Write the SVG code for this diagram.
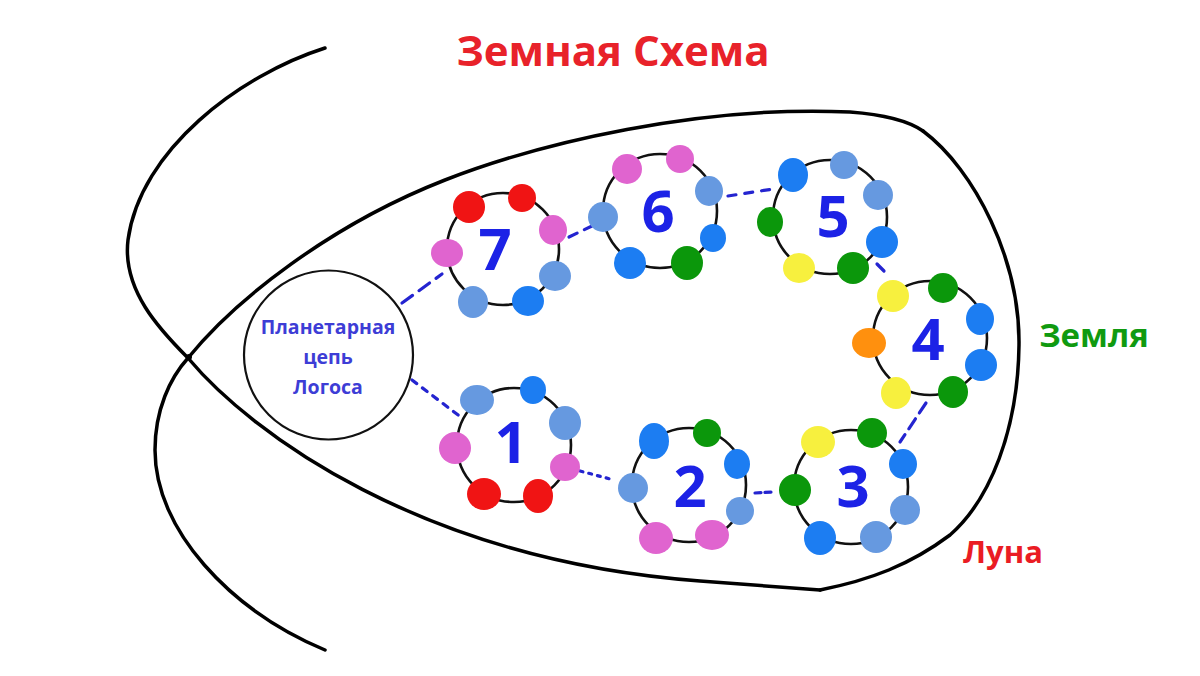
<svg xmlns="http://www.w3.org/2000/svg" width="1200" height="676" viewBox="0 0 1200 676">
<style>
.ln{fill:none;stroke:#000;stroke-width:3.5;stroke-linecap:round;stroke-linejoin:round}
.ring{fill:none;stroke:#111;stroke-width:2.6}
.num{font-family:"Open Sans","DejaVu Sans",sans-serif;font-weight:700;font-size:58px;fill:#1c22e6;text-anchor:middle}
.dash{fill:none;stroke:#2424d0;stroke-width:3.2;stroke-linecap:round}
.r{fill:#f01414}.p{fill:#e064cf}.s{fill:#6699e0}.b{fill:#1c7df2}.g{fill:#0b970b}.y{fill:#f7f03e}.o{fill:#ff900e}
.lbl{font-family:"Open Sans","DejaVu Sans",sans-serif;font-weight:700}
</style>
<rect width="1200" height="676" fill="#fff"/>
<g id="outline">
<path class="ln" d="M325,48 C240,75 140,150 128,240 C122,290 160,330 188,358 C250,432 420,560 700,581 L820,590"/>
<path class="ln" d="M325,650 C230,610 155,530 155,450 C155,410 170,378 188,358 C235,300 330,225 445,180 C540,143 700,105 850,112 C890,115 910,122 923,131"/>
<path class="ln" d="M923,131 C975,170 1020,260 1019,345 C1018,430 990,500 950,535 C910,565 870,580 820,590"/>
<circle cx="189" cy="357" r="3"/>
</g>
<g id="connectors">
<path class="dash" d="M402,303 L442,274" stroke-dasharray="13 8"/>
<path class="dash" d="M412,380 L462,418" stroke-dasharray="6 7"/>
<path class="dash" d="M569,237 L592,226" stroke-dasharray="9 8"/>
<path class="dash" d="M728,196 L773,189" stroke-dasharray="8 9"/>
<path class="dash" d="M877,264 L884,271"/>
<path class="dash" d="M926,403 L900,442" stroke-dasharray="12 7"/>
<path class="dash" d="M755,493 L772,492" stroke-dasharray="6 4"/>
<path class="dash" d="M580,471 L614,480" stroke-dasharray="3 6"/>
</g>
<g id="title"><text class="lbl" x="613" y="66" font-size="42" fill="#e8222a" text-anchor="middle">Земная Схема</text></g>
<g id="zemlya"><text class="lbl" x="1094" y="347" font-size="33" fill="#109a10" text-anchor="middle">Земля</text></g>
<g id="luna"><text class="lbl" x="1003" y="563" font-size="31" fill="#ea1c24" text-anchor="middle">Луна</text></g>
<g id="logos">
<circle cx="328.5" cy="355" r="84.5" fill="#fff" stroke="#111" stroke-width="2.2"/>
<g class="lbl" font-size="19.5" fill="#3d3dd6" text-anchor="middle">
<text x="328" y="334">Планетарная</text>
<text x="328" y="364">цепь</text>
<text x="328" y="394">Логоса</text>
</g>
</g>
<g id="globe7">
<circle class="ring" cx="503" cy="249" r="56"/>
<ellipse class="r" cx="469" cy="207" rx="16" ry="16"/>
<ellipse class="r" cx="522" cy="198" rx="14" ry="14"/>
<ellipse class="p" cx="553" cy="230" rx="14" ry="15"/>
<ellipse class="p" cx="447" cy="253" rx="16" ry="14"/>
<ellipse class="s" cx="555" cy="276" rx="16" ry="15"/>
<ellipse class="b" cx="528" cy="301" rx="16" ry="15"/>
<ellipse class="s" cx="473" cy="302" rx="15" ry="16"/>
<text class="num" x="495" y="270">7</text>
</g>
<g id="globe6">
<circle class="ring" cx="660" cy="211" r="57"/>
<ellipse class="p" cx="627" cy="169" rx="15" ry="15"/>
<ellipse class="p" cx="680" cy="159" rx="14" ry="14"/>
<ellipse class="s" cx="709" cy="191" rx="14" ry="15"/>
<ellipse class="s" cx="603" cy="217" rx="15" ry="15"/>
<ellipse class="b" cx="713" cy="238" rx="13" ry="14"/>
<ellipse class="g" cx="687" cy="263" rx="16" ry="17"/>
<ellipse class="b" cx="630" cy="263" rx="16" ry="16"/>
<text class="num" x="658" y="232">6</text>
</g>
<g id="globe5">
<circle class="ring" cx="830" cy="217" r="57"/>
<ellipse class="b" cx="793" cy="175" rx="15" ry="17"/>
<ellipse class="s" cx="844" cy="165" rx="14" ry="14"/>
<ellipse class="s" cx="878" cy="195" rx="15" ry="15"/>
<ellipse class="b" cx="882" cy="242" rx="16" ry="16"/>
<ellipse class="g" cx="770" cy="222" rx="13" ry="15"/>
<ellipse class="y" cx="799" cy="268" rx="16" ry="15"/>
<ellipse class="g" cx="853" cy="268" rx="16" ry="16"/>
<text class="num" x="833" y="237">5</text>
</g>
<g id="globe4">
<circle class="ring" cx="930" cy="338" r="57"/>
<ellipse class="y" cx="893" cy="296" rx="16" ry="16"/>
<ellipse class="g" cx="943" cy="288" rx="15" ry="15"/>
<ellipse class="b" cx="980" cy="319" rx="14" ry="16"/>
<ellipse class="b" cx="981" cy="365" rx="16" ry="16"/>
<ellipse class="o" cx="869" cy="343" rx="17" ry="15"/>
<ellipse class="y" cx="896" cy="393" rx="15" ry="16"/>
<ellipse class="g" cx="953" cy="392" rx="15" ry="16"/>
<text class="num" x="928" y="360">4</text>
</g>
<g id="globe1">
<circle class="ring" cx="514" cy="445" r="57"/>
<ellipse class="s" cx="477" cy="400" rx="17" ry="15"/>
<ellipse class="b" cx="533" cy="390" rx="13" ry="14"/>
<ellipse class="s" cx="565" cy="423" rx="16" ry="17"/>
<ellipse class="p" cx="455" cy="448" rx="16" ry="16"/>
<ellipse class="p" cx="565" cy="467" rx="15" ry="14"/>
<ellipse class="r" cx="484" cy="494" rx="17" ry="16"/>
<ellipse class="r" cx="538" cy="496" rx="15" ry="17"/>
<text class="num" x="511" y="463">1</text>
</g>
<g id="globe2">
<circle class="ring" cx="689" cy="485" r="57"/>
<ellipse class="b" cx="654" cy="441" rx="15" ry="18"/>
<ellipse class="g" cx="707" cy="433" rx="14" ry="14"/>
<ellipse class="b" cx="737" cy="464" rx="13" ry="15"/>
<ellipse class="s" cx="633" cy="488" rx="15" ry="15"/>
<ellipse class="s" cx="740" cy="511" rx="14" ry="14"/>
<ellipse class="p" cx="656" cy="538" rx="17" ry="16"/>
<ellipse class="p" cx="712" cy="535" rx="17" ry="15"/>
<text class="num" x="690" y="507">2</text>
</g>
<g id="globe3">
<circle class="ring" cx="851" cy="487" r="57"/>
<ellipse class="y" cx="818" cy="442" rx="17" ry="16"/>
<ellipse class="g" cx="872" cy="433" rx="15" ry="15"/>
<ellipse class="b" cx="903" cy="464" rx="14" ry="15"/>
<ellipse class="g" cx="795" cy="490" rx="16" ry="16"/>
<ellipse class="s" cx="905" cy="510" rx="15" ry="15"/>
<ellipse class="b" cx="820" cy="538" rx="16" ry="17"/>
<ellipse class="s" cx="876" cy="537" rx="16" ry="16"/>
<text class="num" x="853" y="507">3</text>
</g>
</svg>
